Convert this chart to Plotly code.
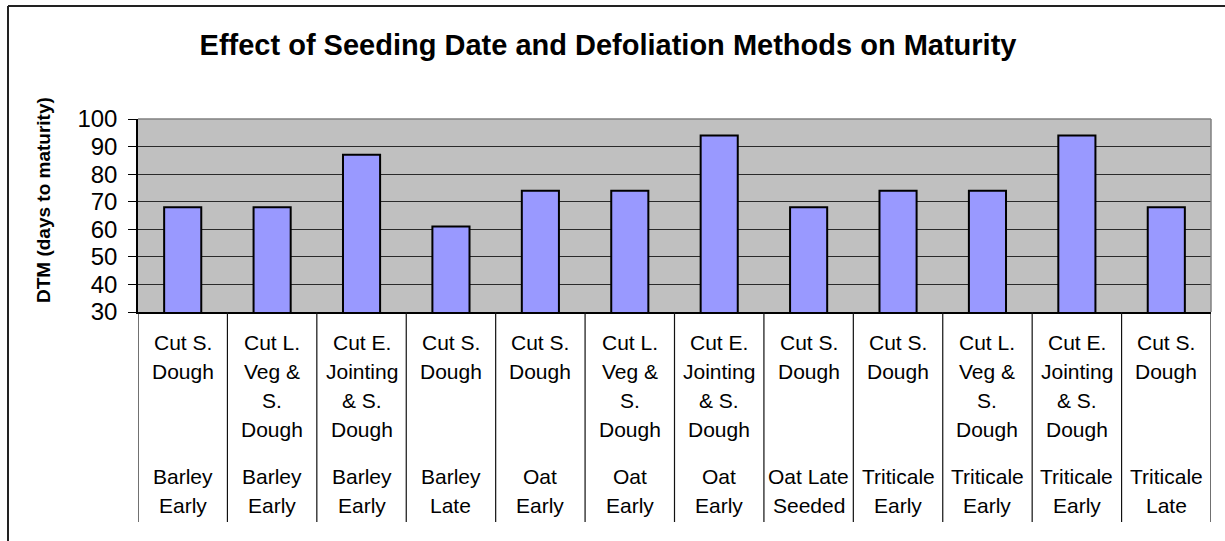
import plotly.graph_objects as go

# ---- data ----
methods = [
    ["Cut S.", "Dough"],
    ["Cut L.", "Veg &", "S.", "Dough"],
    ["Cut E.", "Jointing", "& S.", "Dough"],
    ["Cut S.", "Dough"],
    ["Cut S.", "Dough"],
    ["Cut L.", "Veg &", "S.", "Dough"],
    ["Cut E.", "Jointing", "& S.", "Dough"],
    ["Cut S.", "Dough"],
    ["Cut S.", "Dough"],
    ["Cut L.", "Veg &", "S.", "Dough"],
    ["Cut E.", "Jointing", "& S.", "Dough"],
    ["Cut S.", "Dough"],
]
species = [
    ["Barley", "Early"], ["Barley", "Early"], ["Barley", "Early"], ["Barley", "Late"],
    ["Oat", "Early"], ["Oat", "Early"], ["Oat", "Early"], ["Oat Late", "Seeded"],
    ["Triticale", "Early"], ["Triticale", "Early"], ["Triticale", "Early"], ["Triticale", "Late"],
]
dtm = [68, 68, 87, 61, 74, 74, 94, 68, 74, 74, 94, 68]
y_ticks = [30, 40, 50, 60, 70, 80, 90, 100]

title_text = "Effect of Seeding Date and Defoliation Methods on Maturity"
y_title = "DTM (days to maturity)"

# ---- geometry ----
W, H = 1225, 541
L, R, T, B = 138, 14, 119, 229
PH = H - T - B
PW = W - L - R
FONT = "Liberation Sans, Arial, sans-serif"

def py(pix):
    return (H - B - pix) / PH

def px(pix):
    return (pix - L) / PW

idx = list(range(len(dtm)))

fig = go.Figure()
fig.add_trace(go.Bar(
    x=idx, y=dtm,
    marker=dict(color="#9999FF", line=dict(color="black", width=2)),
    hoverinfo="y",
))

annotations = []
method_rows = [342, 371, 400, 429]
species_rows = [476, 505]
for i in idx:
    for j, line in enumerate(methods[i]):
        annotations.append(dict(x=i, y=py(method_rows[j]), xref="x", yref="paper",
                                text=line, showarrow=False, xanchor="center", yanchor="middle",
                                font=dict(family=FONT, size=21, color="black")))
    for j, line in enumerate(species[i]):
        annotations.append(dict(x=i, y=py(species_rows[j]), xref="x", yref="paper",
                                text=line, showarrow=False, xanchor="center", yanchor="middle",
                                font=dict(family=FONT, size=21, color="black")))

annotations.append(dict(x=px(43), y=py(200), xref="paper", yref="paper", text="<b>%s</b>" % y_title,
                        textangle=-90, showarrow=False, xanchor="center", yanchor="middle",
                        font=dict(family=FONT, size=19, color="black")))

shapes = []
for i in idx + [len(idx)]:
    shapes.append(dict(type="line", xref="x", yref="paper", x0=i - 0.5, x1=i - 0.5,
                       y0=0, y1=py(522), line=dict(color="#111111", width=1.2)))
# plot area border (top/right in gray)
shapes.append(dict(type="line", xref="paper", yref="paper", x0=0, x1=1, y0=1, y1=1,
                   line=dict(color="#808080", width=1.5)))
shapes.append(dict(type="line", xref="paper", yref="paper", x0=1, x1=1, y0=0, y1=1,
                   line=dict(color="#808080", width=1.5)))
# outer chart frame
shapes.append(dict(type="line", xref="paper", yref="paper", x0=px(8), x1=px(W + 5), y0=py(6), y1=py(6),
                   line=dict(color="#222222", width=2)))
shapes.append(dict(type="line", xref="paper", yref="paper", x0=px(8), x1=px(8), y0=py(6), y1=py(H + 5),
                   line=dict(color="#222222", width=2)))

fig.update_layout(
    width=W, height=H,
    margin=dict(l=L, r=R, t=T, b=B, pad=0),
    paper_bgcolor="white",
    plot_bgcolor="#C0C0C0",
    bargap=0.585,
    showlegend=False,
    title=dict(text="<b>%s</b>" % title_text, x=608 / W, xanchor="center",
               y=1 - 45 / H, yanchor="middle", yref="container", xref="container",
               font=dict(family=FONT, size=29, color="black")),
    xaxis=dict(range=[-0.5, len(idx) - 0.5], showticklabels=False, ticks="",
               showgrid=False, zeroline=False, showline=True, linecolor="black", linewidth=1.5,
               fixedrange=True),
    yaxis=dict(range=[30, 100], tickvals=y_ticks, ticks="outside", ticklen=8,
               tickcolor="black", tickwidth=1, showgrid=True, gridcolor="#2a2a2a", gridwidth=1,
               zeroline=False, showline=True, linecolor="black", linewidth=1.5,
               tickfont=dict(family=FONT, size=24, color="black"), ticklabelstandoff=6,
               fixedrange=True),
    annotations=annotations,
    shapes=shapes,
)

fig.write_html("out.html", config={"displayModeBar": False},
               post_script="document.body.style.margin='0px';")
